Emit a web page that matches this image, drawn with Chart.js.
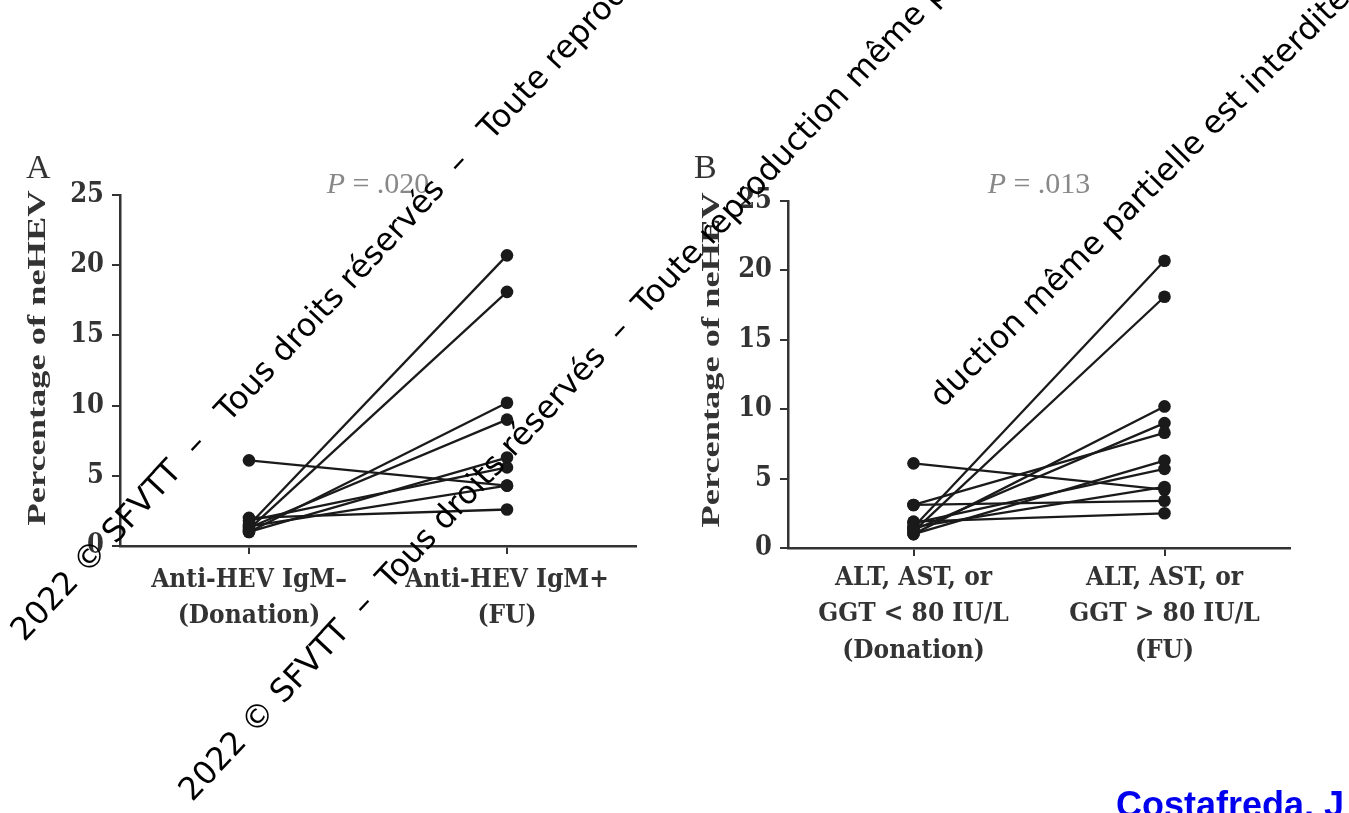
<!DOCTYPE html>
<html>
<head>
<meta charset="utf-8">
<script src="https://cdn.jsdelivr.net/npm/chart.js@4.4.0/dist/chart.umd.min.js"></script>
<style>
  html, body { margin: 0; padding: 0; background: #fff; }
  body { width: 1349px; height: 813px; overflow: hidden; position: relative; }
  .panel { position: absolute; }
  .wm { position: absolute; font-family: "DejaVu Sans", sans-serif; font-size: 32px; color: #000;
        white-space: pre; line-height: 1; transform-origin: 0 100%; transform: rotate(-47deg); }
  #cite { position: absolute; left: 1116px; top: 784px; font: bold 36px "Liberation Sans", Arial, sans-serif;
          color: #0000ee; white-space: nowrap; }
</style>
</head>
<body>
<div class="panel" style="left:0;top:140px"><canvas id="chartA" width="670" height="560"></canvas></div>
<div class="panel" style="left:670px;top:140px"><canvas id="chartB" width="679" height="560"></canvas></div>

<div class="wm" style="left:28px;top:614px">2022 © SFVTT  –   Tous droits réservés  –   Toute reproduction même partielle est interdite</div>
<div class="wm" style="left:196px;top:774px">2022 © SFVTT  –  Tous droits réservés  –  Toute reproduction même partielle est interdite</div>
<div class="wm" style="left:946px;top:380px;transform:rotate(-45deg)">duction même partielle est interdite</div>
<div id="cite">Costafreda, J Infect Dis</div>

<script>
// données
const labelsA = [['Anti-HEV IgM–', '(Donation)'], ['Anti-HEV IgM+', '(FU)']];
const donationA = [1.5, 1.2, 1.0, 1.3, 1.0, 1.8, 6.1, 1.4, 2.0];
const followUpA = [20.7, 18.1, 10.2, 9.0, 6.3, 5.6, 4.3, 4.3, 2.6];

const labelsB = [['ALT, AST, or', 'GGT < 80 IU/L', '(Donation)'], ['ALT, AST, or', 'GGT > 80 IU/L', '(FU)']];
const donationB = [1.5, 1.2, 1.0, 1.3, 3.1, 1.0, 1.8, 6.1, 1.5, 3.1, 1.9];
const followUpB = [20.7, 18.1, 10.2, 9.0, 8.3, 6.3, 5.7, 4.2, 4.4, 3.4, 2.5];

const yMin = 0, yMax = 25, yStep = 5;
const yTitle = 'Percentage of neHEV';

const ink = '#333';
const serif = '"Liberation Serif", "DejaVu Serif", serif';
const tickFont = '"DejaVu Serif Condensed", "DejaVu Serif", serif';

// lettre du panneau, valeur P et titre Y étiré (comme sur la figure)
const decorations = {
  id: 'decorations',
  afterDraw(chart, args, o) {
    const { ctx, chartArea } = chart;
    ctx.save();
    ctx.fillStyle = ink;
    ctx.textBaseline = 'alphabetic';
    ctx.textAlign = 'left';
    ctx.font = '34px ' + serif;
    ctx.fillText(o.letter, o.letterX, o.letterY);

    // P = ...
    const cx = (chartArea.left + chartArea.right) / 2;
    ctx.fillStyle = '#888';
    ctx.font = 'italic 30px ' + serif;
    const pW = ctx.measureText('P').width;
    ctx.font = '30px ' + serif;
    const rest = ' = ' + o.pValue;
    const rW = ctx.measureText(rest).width;
    const x0 = cx - (pW + rW) / 2;
    ctx.font = 'italic 30px ' + serif;
    ctx.fillText('P', x0, o.pY);
    ctx.font = '30px ' + serif;
    ctx.fillText(rest, x0 + pW, o.pY);

    // titre de l'axe Y
    ctx.fillStyle = ink;
    ctx.translate(o.titleX, o.titleY);
    ctx.rotate(-Math.PI / 2);
    ctx.scale(1.4, 1);
    ctx.font = 'bold 26px ' + serif;
    ctx.textAlign = 'center';
    ctx.textBaseline = 'middle';
    ctx.fillText(yTitle, 0, 0);
    ctx.restore();
  }
};

function makePanel(id, labels, donation, followUp, box, deco) {
  const datasets = donation.map((d, i) => ({
    data: [d, followUp[i]],
    borderColor: '#1a1a1a',
    backgroundColor: '#1a1a1a',
    borderWidth: 2.3,
    pointRadius: 6.3,
    pointBorderWidth: 0,
    pointBackgroundColor: '#1a1a1a'
  }));

  return new Chart(document.getElementById(id), {
    type: 'line',
    data: { labels: labels, datasets: datasets },
    plugins: [decorations],
    options: {
      responsive: false,
      devicePixelRatio: 1,
      animation: false,
      layout: { padding: { top: box.top, right: box.right, left: 0, bottom: 0 } },
      plugins: {
        legend: { display: false },
        tooltip: { enabled: false },
        decorations: deco
      },
      scales: {
        x: {
          offset: true,
          grid: { offset: false, drawOnChartArea: false, drawTicks: true, tickLength: 8, color: ink, lineWidth: 2 },
          border: { display: true, color: ink, width: 2.5 },
          ticks: { color: ink, padding: box.xPad, maxRotation: 0, autoSkip: false,
                   font: { family: tickFont, size: 26, weight: 'bold', lineHeight: 1.4 } },
          afterFit: s => { s.height = box.xHeight; }
        },
        y: {
          min: yMin, max: yMax,
          grid: { drawOnChartArea: false, drawTicks: true, tickLength: 8, color: ink, lineWidth: 2 },
          border: { display: true, color: ink, width: 2.5 },
          ticks: { stepSize: yStep, color: ink, padding: 8,
                   font: { family: tickFont, size: 27, weight: 'bold' } },
          afterFit: s => { s.width = box.yWidth; }
        }
      }
    }
  });
}

makePanel('chartA', labelsA, donationA, followUpA,
  { top: 55, right: 34, yWidth: 120, xHeight: 154, xPad: 8 },
  { letter: 'A', letterX: 26, letterY: 38, pValue: '.020', pY: 53, titleX: 38, titleY: 218 });

makePanel('chartB', labelsB, donationB, followUpB,
  { top: 61, right: 59, yWidth: 118, xHeight: 152, xPad: 4 },
  { letter: 'B', letterX: 24, letterY: 38, pValue: '.013', pY: 53, titleX: 42, titleY: 220 });
</script>
</body>
</html>
